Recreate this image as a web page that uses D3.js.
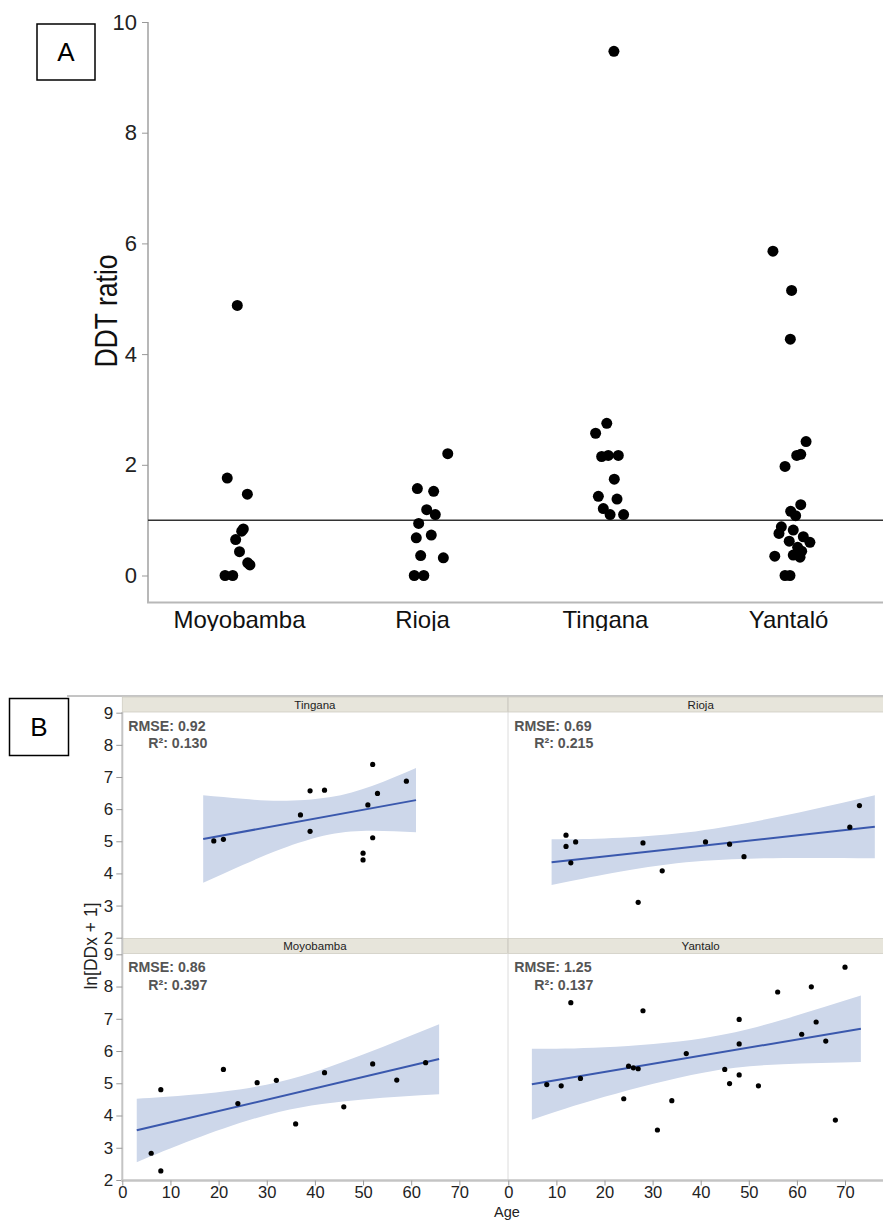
<!DOCTYPE html>
<html>
<head>
<meta charset="utf-8">
<script src="https://cdn.jsdelivr.net/npm/d3@7"></script>
<style>
body { margin: 0; background: #fff; }
svg { display: block; font-family: "Liberation Sans", Arial, sans-serif; }
</style>
</head>
<body>
<div id="chart"></div>
<script>
// ---------- panel A: DDT ratio by village, [ratio, jitter (fraction of band)] ----------
const villages = ["Moyobamba", "Rioja", "Tingana", "Yantaló"];
const ratioMoyobamba = [[4.88,-0.012],[1.76,-0.067],[1.47,0.043],[0.84,0.021],[0.80,0.012],[0.65,-0.021],
    [0.43,0.000],[0.23,0.045],[0.19,0.057],[0,-0.079],[0,-0.037]];
const ratioRioja = [[2.20,0.138],[1.57,-0.028],[1.52,0.061],[1.19,0.023],[1.10,0.070],[0.94,-0.021],
    [0.68,-0.034],[0.73,0.048],[0.36,-0.010],[0.32,0.114],[0,-0.045],[0,0.007]];
const ratioTingana = [[9.47,0.046],[2.75,0.007],[2.57,-0.054],[2.15,-0.021],[2.17,0.015],[2.17,0.070],
    [1.74,0.048],[1.43,-0.039],[1.38,0.063],[1.21,-0.012],[1.10,0.025],[1.10,0.099]];
const ratioYantalo = [[5.86,-0.085],[5.15,0.017],[4.27,0.010],[2.42,0.096],[2.17,0.045],[2.19,0.067],
    [1.97,-0.019],[1.28,0.067],[1.16,0.012],[1.08,0.039],[0.88,-0.039],[0.76,-0.052],[0.82,0.026],
    [0.62,0.004],[0.70,0.081],[0.60,0.117],[0.51,0.050],[0.44,0.072],[0.33,0.063],[0.35,-0.075],
    [0.37,0.026],[0,-0.019],[0,0.008]];
const ratioTicks = [0, 2, 4, 6, 8, 10];
const refRatio = 1;

// ---------- panel B: ln[DDx + 1] vs age, per village ----------
const ageTingana = [19,21,37,39,39,42,50,50,51,52,52,53,59];
const lnTingana  = [5.01,5.06,5.82,6.57,5.31,6.59,4.63,4.42,6.13,7.39,5.11,6.49,6.87];
const ageRioja = [12,12,13,14,27,28,32,41,46,49,71,73];
const lnRioja  = [5.19,4.84,4.33,4.98,3.10,4.95,4.08,4.98,4.91,4.52,5.44,6.11];
const ageMoyobamba = [6,8,8,21,24,28,32,36,42,46,52,57,63];
const lnMoyobamba  = [2.83,4.80,2.28,5.43,4.37,5.02,5.09,3.74,5.33,4.27,5.60,5.10,5.64];
const ageYantalo = [8,11,13,15,24,25,26,27,28,31,34,37,45,46,48,48,48,52,56,61,63,64,66,68,70];
const lnYantalo  = [4.96,4.92,7.50,5.15,4.52,5.53,5.48,5.45,7.25,3.55,4.46,5.92,5.43,4.99,6.98,6.22,
    5.26,4.92,7.83,6.52,7.99,6.90,6.31,3.86,8.60];

// fitted line ends [age, value] and confidence band [age, lower, upper]
const fitTingana = [[16.8,5.07],[61,6.28]];
const bandTingana = [[16.8,3.71,6.43],[25,4.26,6.32],[33,4.76,6.26],[43,5.21,6.37],[52,5.33,6.73],[61,5.28,7.28]];
const fitRioja = [[9,4.35],[76.2,5.45]];
const bandRioja = [[9,3.64,5.06],[20,3.97,5.09],[35,4.32,5.24],[50,4.46,5.58],[63,4.48,5.98],[76.2,4.47,6.43]];
const fitMoyobamba = [[3,3.54],[65.8,5.75]];
const bandMoyobamba = [[3,2.55,4.52],[15,3.27,4.65],[32.5,4.11,5.04],[50,4.50,5.89],[65.8,4.66,6.83]];
const fitYantalo = [[4.9,4.97],[73.3,6.69]];
const bandYantalo = [[4.9,3.87,6.07],[20,4.58,6.12],[40.5,5.33,6.40],[57,5.59,6.97],[73.3,5.66,7.72]];

const facetNames = ["Tingana", "Rioja", "Moyobamba", "Yantalo"];
const facetRmse = ["0.92", "0.69", "0.86", "1.25"];
const facetR2 = ["0.130", "0.215", "0.397", "0.137"];
const ageTicks = [0, 10, 20, 30, 40, 50, 60, 70];
const lnTicks = [2, 3, 4, 5, 6, 7, 8, 9];

const width = 883, height = 1220;
const svg = d3.select("#chart").append("svg")
    .attr("width", width)
    .attr("height", height);

// ================= PANEL A =================
svg.append("clipPath").attr("id", "clipA")
    .append("rect").attr("x", 0).attr("y", 0).attr("width", width).attr("height", 631);

const gA = svg.append("g").attr("clip-path", "url(#clipA)");

const xA = d3.scaleBand().domain(villages).range([148, 880]);
const yA = d3.scaleLinear().domain([0, 10]).range([575.5, 22]);

// axis lines
gA.append("line")
    .attr("x1", 148).attr("x2", 148).attr("y1", 22).attr("y2", 603)
    .attr("stroke", "#b8b8b8").attr("stroke-width", 2);
gA.append("line")
    .attr("x1", 147).attr("x2", width).attr("y1", 602.5).attr("y2", 602.5)
    .attr("stroke", "#b8b8b8").attr("stroke-width", 2);

const yAxisA = gA.append("g")
    .attr("transform", "translate(148,0)")
    .call(d3.axisLeft(yA).tickValues(ratioTicks).tickSize(6).tickPadding(5));
yAxisA.select(".domain").remove();
yAxisA.selectAll(".tick line").attr("stroke", "#999");
yAxisA.selectAll(".tick text")
    .attr("font-size", 22).attr("fill", "#222")
    .attr("font-family", "'Liberation Sans', Arial, sans-serif");

// category labels
gA.selectAll(".catlab").data(villages).enter().append("text")
    .attr("class", "catlab")
    .attr("x", d => xA(d) + xA.bandwidth() / 2)
    .attr("y", 628)
    .attr("text-anchor", "middle")
    .attr("font-size", 24)
    .attr("fill", "#111")
    .text(d => d);

// y label
gA.append("text")
    .attr("transform", "translate(117,311) rotate(-90) scale(0.83,1)")
    .attr("text-anchor", "middle")
    .attr("font-size", 32)
    .attr("fill", "#111")
    .text("DDT ratio");

// reference line at ratio = 1
gA.append("line")
    .attr("x1", 148).attr("x2", width)
    .attr("y1", yA(refRatio)).attr("y2", yA(refRatio))
    .attr("stroke", "#333").attr("stroke-width", 1.5);

// points
const ratioSets = [ratioMoyobamba, ratioRioja, ratioTingana, ratioYantalo];
villages.forEach((v, i) => {
    gA.selectAll(".pt" + i).data(ratioSets[i]).enter().append("circle")
        .attr("cx", d => xA(v) + xA.bandwidth() * (0.5 + d[1]))
        .attr("cy", d => yA(d[0]))
        .attr("r", 5.5)
        .attr("fill", "#000");
});

// "A" label box
svg.append("rect")
    .attr("x", 37).attr("y", 24).attr("width", 58).attr("height", 56)
    .attr("fill", "none").attr("stroke", "#000").attr("stroke-width", 1.5);
svg.append("text")
    .attr("x", 66).attr("y", 61)
    .attr("text-anchor", "middle")
    .attr("font-size", 26)
    .text("A");

// ================= PANEL B =================
const xL = d3.scaleLinear().domain([0, 80]).range([122.3, 507.5]);
const xR = d3.scaleLinear().domain([0, 80]).range([508.3, 893.1]);
const yTop = d3.scaleLinear().domain([2, 9]).range([937.7, 712.7]);
const yBot = d3.scaleLinear().domain([2, 9]).range([1180, 954.3]);
const stripTop = [697, 938.5];

// top frame line
svg.append("line")
    .attr("x1", 67).attr("x2", width).attr("y1", 696).attr("y2", 696)
    .attr("stroke", "#8a8a8a").attr("stroke-width", 1);

const facets = [
    {name: facetNames[0], ages: ageTingana, vals: lnTingana, fit: fitTingana, band: bandTingana, col: 0, row: 0},
    {name: facetNames[1], ages: ageRioja, vals: lnRioja, fit: fitRioja, band: bandRioja, col: 1, row: 0},
    {name: facetNames[2], ages: ageMoyobamba, vals: lnMoyobamba, fit: fitMoyobamba, band: bandMoyobamba, col: 0, row: 1},
    {name: facetNames[3], ages: ageYantalo, vals: lnYantalo, fit: fitYantalo, band: bandYantalo, col: 1, row: 1}
];

// divider between columns
svg.append("line")
    .attr("x1", 508).attr("x2", 508).attr("y1", 697).attr("y2", 1180)
    .attr("stroke", "#dcdcdc").attr("stroke-width", 1);

facets.forEach((f, i) => {
    const x = f.col === 0 ? xL : xR;
    const y = f.row === 0 ? yTop : yBot;
    const left = x.range()[0];
    const right = x.range()[1];
    const g = svg.append("g");

    // strip
    g.append("rect")
        .attr("x", left).attr("y", stripTop[f.row])
        .attr("width", right - left).attr("height", 15)
        .attr("fill", "#e7e5db").attr("stroke", "#d0cec4").attr("stroke-width", 0.8);
    g.append("text")
        .attr("x", (left + right) / 2).attr("y", stripTop[f.row] + 11.5)
        .attr("text-anchor", "middle")
        .attr("font-size", 11.5).attr("fill", "#222")
        .text(f.name);

    // confidence band
    const area = d3.area()
        .x(d => x(d[0]))
        .y0(d => y(d[1]))
        .y1(d => y(d[2]))
        .curve(d3.curveNatural);
    g.append("path").datum(f.band)
        .attr("d", area)
        .attr("fill", "#cdd7ea");

    // fit line
    g.append("path").datum(f.fit)
        .attr("d", d3.line().x(d => x(d[0])).y(d => y(d[1])))
        .attr("fill", "none").attr("stroke", "#3a58ad").attr("stroke-width", 2);

    // points
    g.selectAll("circle").data(f.ages).enter().append("circle")
        .attr("cx", d => x(d))
        .attr("cy", (d, j) => y(f.vals[j]))
        .attr("r", 2.6)
        .attr("fill", "#000");

    // stats text
    const top = y.range()[1];
    g.append("text")
        .attr("x", left + 6).attr("y", top + 18)
        .attr("font-size", 14.2).attr("font-weight", "bold").attr("fill", "#555")
        .text("RMSE: " + facetRmse[i]);
    g.append("text")
        .attr("x", left + 85).attr("y", top + 35.5)
        .attr("text-anchor", "end")
        .attr("font-size", 14.2).attr("font-weight", "bold").attr("fill", "#555")
        .text("R²: " + facetR2[i]);
});

// left axis line for both rows
svg.append("line")
    .attr("x1", 122.3).attr("x2", 122.3).attr("y1", 712).attr("y2", 1181)
    .attr("stroke", "#c4c4c4").attr("stroke-width", 2);

[yTop, yBot].forEach(y => {
    const ax = svg.append("g")
        .attr("transform", "translate(122.3,0)")
        .call(d3.axisLeft(y).tickValues(lnTicks).tickSize(6).tickPadding(3).tickFormat(d3.format("d")));
    ax.select(".domain").remove();
    ax.selectAll(".tick line").attr("stroke", "#999");
    ax.selectAll(".tick text")
        .attr("font-size", 17).attr("fill", "#222")
        .attr("font-family", "'Liberation Sans', Arial, sans-serif");
});

// bottom axis line
svg.append("line")
    .attr("x1", 121).attr("x2", width).attr("y1", 1180.5).attr("y2", 1180.5)
    .attr("stroke", "#c4c4c4").attr("stroke-width", 2.5);

[xL, xR].forEach(x => {
    const ax = svg.append("g")
        .attr("transform", "translate(0,1180.5)")
        .call(d3.axisBottom(x).tickValues(ageTicks).tickSize(5).tickPadding(1).tickFormat(d3.format("d")));
    ax.select(".domain").remove();
    ax.selectAll(".tick line").attr("stroke", "#999");
    ax.selectAll(".tick text")
        .attr("font-size", 16.5).attr("fill", "#222")
        .attr("font-family", "'Liberation Sans', Arial, sans-serif");
});

// axis titles
svg.append("text")
    .attr("x", 507).attr("y", 1216.5)
    .attr("text-anchor", "middle")
    .attr("font-size", 14.5).attr("fill", "#222")
    .text("Age");
svg.append("text")
    .attr("transform", "translate(97,946) rotate(-90)")
    .attr("text-anchor", "middle")
    .attr("font-size", 17.5).attr("fill", "#222")
    .text("ln[DDx + 1]");

// "B" label box
svg.append("rect")
    .attr("x", 9.5).attr("y", 698.5).attr("width", 59).attr("height", 57)
    .attr("fill", "#fff").attr("stroke", "#000").attr("stroke-width", 1.5);
svg.append("text")
    .attr("x", 39).attr("y", 736)
    .attr("text-anchor", "middle")
    .attr("font-size", 26)
    .text("B");
</script>
</body>
</html>
